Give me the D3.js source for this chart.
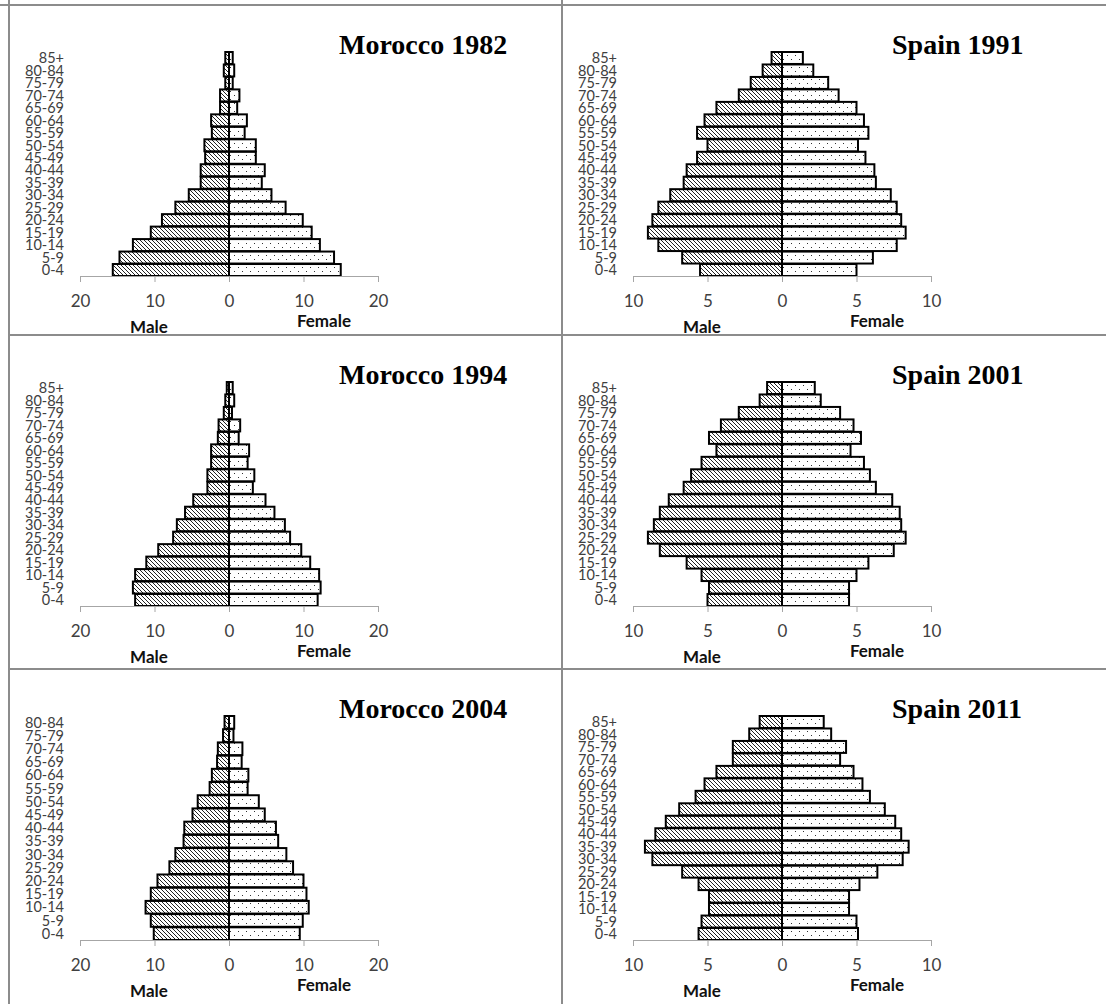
<!DOCTYPE html>
<html>
<head>
<meta charset="utf-8">
<script src="https://cdn.jsdelivr.net/npm/d3@7"></script>
<style>
  body { margin: 0; background: #fff; }
  svg { display: block; }
  .cat-label { font-family: Lato, "Open Sans", sans-serif; font-size: 14.5px; fill: #404040; }
  .tick text { font-family: Lato, "Open Sans", sans-serif; font-size: 17px; fill: #404040; }
  .sex-label { font-family: Lato, "Open Sans", sans-serif; font-size: 17px; font-weight: bold; fill: #111; }
  .panel-title { font-family: "Liberation Serif", "Times New Roman", serif; font-size: 28px; font-weight: bold; fill: #000; }
</style>
</head>
<body>
<svg id="chart"></svg>
<script>
// age groups, youngest first
const ageGroups = ['0-4', '5-9', '10-14', '15-19', '20-24', '25-29', '30-34', '35-39', '40-44',
  '45-49', '50-54', '55-59', '60-64', '65-69', '70-74', '75-79', '80-84', '85+'];
const ageGroups2004 = ['0-4', '5-9', '10-14', '15-19', '20-24', '25-29', '30-34', '35-39', '40-44',
  '45-49', '50-54', '55-59', '60-64', '65-69', '70-74', '75-79', '80-84'];

// % of population
const morocco1982Male = [15.6, 14.7, 12.9, 10.5, 9.0, 7.2, 5.4, 3.8, 3.8, 3.2, 3.3, 2.3, 2.4, 1.2, 1.2, 0.5, 0.7, 0.5];
const morocco1982Female = [15.0, 14.1, 12.2, 11.1, 9.9, 7.6, 5.7, 4.4, 4.8, 3.6, 3.6, 2.1, 2.4, 1.1, 1.4, 0.5, 0.7, 0.5];

const spain1991Male = [5.5, 6.7, 8.3, 9.0, 8.7, 8.3, 7.5, 6.6, 6.4, 5.7, 5.0, 5.7, 5.2, 4.4, 2.9, 2.1, 1.3, 0.7];
const spain1991Female = [5.0, 6.1, 7.7, 8.3, 8.0, 7.7, 7.3, 6.3, 6.2, 5.6, 5.1, 5.8, 5.5, 5.0, 3.8, 3.1, 2.1, 1.4];

const morocco1994Male = [12.6, 12.9, 12.6, 11.1, 9.5, 7.5, 7.0, 5.9, 4.8, 2.9, 2.9, 2.4, 2.4, 1.5, 1.4, 0.7, 0.5, 0.3];
const morocco1994Female = [11.9, 12.3, 12.1, 10.9, 9.7, 8.2, 7.5, 6.1, 4.9, 3.2, 3.4, 2.5, 2.7, 1.3, 1.5, 0.4, 0.7, 0.5];

const spain2001Male = [5.0, 4.9, 5.4, 6.4, 8.2, 9.0, 8.6, 8.2, 7.6, 6.6, 6.1, 5.4, 4.4, 4.9, 4.1, 2.9, 1.5, 1.0];
const spain2001Female = [4.5, 4.5, 5.0, 5.8, 7.5, 8.3, 8.0, 7.9, 7.4, 6.3, 5.9, 5.5, 4.6, 5.3, 4.8, 3.9, 2.6, 2.2];

const morocco2004Male = [10.1, 10.5, 11.2, 10.5, 9.6, 8.0, 7.2, 6.1, 6.0, 4.9, 4.2, 2.6, 2.3, 1.6, 1.5, 0.8, 0.6];
const morocco2004Female = [9.5, 9.9, 10.7, 10.4, 10.0, 8.6, 7.7, 6.6, 6.3, 4.8, 4.0, 2.5, 2.6, 1.7, 1.8, 0.6, 0.7];

const spain2011Male = [5.6, 5.4, 4.9, 4.9, 5.6, 6.7, 8.7, 9.2, 8.5, 7.8, 6.9, 5.8, 5.2, 4.4, 3.3, 3.3, 2.2, 1.5];
const spain2011Female = [5.1, 5.0, 4.5, 4.5, 5.2, 6.4, 8.1, 8.5, 8.0, 7.6, 6.9, 5.9, 5.4, 4.8, 3.9, 4.3, 3.3, 2.8];

const moroccoTicks = [-20, -10, 0, 10, 20];
const spainTicks = [-10, -5, 0, 5, 10];

const panels = [
  { title: 'Morocco 1982', ages: ageGroups, male: morocco1982Male, female: morocco1982Female, ticks: moroccoTicks },
  { title: 'Spain 1991', ages: ageGroups, male: spain1991Male, female: spain1991Female, ticks: spainTicks },
  { title: 'Morocco 1994', ages: ageGroups, male: morocco1994Male, female: morocco1994Female, ticks: moroccoTicks },
  { title: 'Spain 2001', ages: ageGroups, male: spain2001Male, female: spain2001Female, ticks: spainTicks },
  { title: 'Morocco 2004', ages: ageGroups2004, male: morocco2004Male, female: morocco2004Female, ticks: moroccoTicks },
  { title: 'Spain 2011', ages: ageGroups, male: spain2011Male, female: spain2011Female, ticks: spainTicks }
];

const WIDTH = 1106;
const HEIGHT = 1004;
const colLeft = [9, 562];
const rowTop = [5, 335, 669];

const svg = d3.select('#chart').attr('width', WIDTH).attr('height', HEIGHT);
svg.append('rect').attr('width', WIDTH).attr('height', HEIGHT).attr('fill', '#fff');

// fill patterns
const defs = svg.append('defs');
const hatch = defs.append('pattern')
  .attr('id', 'hatch')
  .attr('patternUnits', 'userSpaceOnUse')
  .attr('width', 4)
  .attr('height', 4);
hatch.append('rect').attr('width', 4).attr('height', 4).attr('fill', '#fff');
hatch.append('path')
  .attr('d', 'M-1,-1 L5,5 M-1,3 L1,5 M3,-1 L5,1')
  .attr('stroke', '#222')
  .attr('stroke-width', 1);

const dots = defs.append('pattern')
  .attr('id', 'dots')
  .attr('patternUnits', 'userSpaceOnUse')
  .attr('width', 8)
  .attr('height', 8);
dots.append('rect').attr('width', 8).attr('height', 8).attr('fill', '#fff');
dots.append('rect').attr('x', 1).attr('y', 2).attr('width', 1).attr('height', 1).attr('fill', '#333');
dots.append('rect').attr('x', 5).attr('y', 6).attr('width', 1).attr('height', 1).attr('fill', '#333');

panels.forEach((p, i) => {
  const left = colLeft[i % 2];
  const top = rowTop[Math.floor(i / 2)];
  const g = svg.append('g').attr('transform', `translate(${left}, ${top})`);

  const max = d3.max(p.ticks);
  const x = d3.scaleLinear().domain([-max, max]).range([71, 369]);
  const y = d3.scaleBand().domain(p.ages.slice().reverse()).range([47, 271]).paddingInner(0.04);

  // category labels
  g.selectAll('.cat-label')
    .data(p.ages)
    .enter()
    .append('text')
    .attr('class', 'cat-label')
    .attr('x', 55)
    .attr('y', d => y(d) + y.bandwidth() / 2)
    .attr('dy', '0.36em')
    .attr('text-anchor', 'end')
    .text(d => d);

  // male bars (left)
  g.append('g')
    .selectAll('rect')
    .data(p.ages.map((a, k) => ({ age: a, v: p.male[k] })))
    .enter()
    .append('rect')
    .attr('x', d => x(-d.v))
    .attr('y', d => y(d.age))
    .attr('width', d => x(0) - x(-d.v))
    .attr('height', y.bandwidth())
    .attr('fill', 'url(#hatch)')
    .attr('stroke', '#000')
    .attr('stroke-width', 2);

  // female bars (right)
  g.append('g')
    .selectAll('rect')
    .data(p.ages.map((a, k) => ({ age: a, v: p.female[k] })))
    .enter()
    .append('rect')
    .attr('x', x(0))
    .attr('y', d => y(d.age))
    .attr('width', d => x(d.v) - x(0))
    .attr('height', y.bandwidth())
    .attr('fill', 'url(#dots)')
    .attr('stroke', '#000')
    .attr('stroke-width', 2);

  // value axis
  const axis = g.append('g')
    .attr('transform', 'translate(0, 271)')
    .call(d3.axisBottom(x)
      .tickValues(p.ticks)
      .tickFormat(d => Math.abs(d))
      .tickSize(6)
      .tickSizeOuter(0)
      .tickPadding(13));
  axis.select('.domain').attr('stroke', '#a6a6a6');
  axis.selectAll('.tick line').attr('stroke', '#a6a6a6');

  g.append('text').attr('class', 'sex-label')
    .attr('x', 140).attr('y', 328)
    .attr('text-anchor', 'middle')
    .text('Male');
  g.append('text').attr('class', 'sex-label')
    .attr('x', 315).attr('y', 322)
    .attr('text-anchor', 'middle')
    .text('Female');

  g.append('text').attr('class', 'panel-title')
    .attr('x', 330).attr('y', 49)
    .text(p.title);
});

// table borders
const borders = svg.append('g')
  .attr('stroke', '#8c8c8c')
  .attr('stroke-width', 2);
borders.append('line').attr('x1', 0).attr('x2', WIDTH).attr('y1', rowTop[0]).attr('y2', rowTop[0]);
borders.append('line').attr('x1', colLeft[0]).attr('x2', WIDTH).attr('y1', rowTop[1]).attr('y2', rowTop[1]);
borders.append('line').attr('x1', colLeft[0]).attr('x2', WIDTH).attr('y1', rowTop[2]).attr('y2', rowTop[2]);
borders.append('line').attr('x1', colLeft[0]).attr('x2', colLeft[0]).attr('y1', 0).attr('y2', HEIGHT);
borders.append('line').attr('x1', colLeft[1]).attr('x2', colLeft[1]).attr('y1', 0).attr('y2', HEIGHT);
</script>
</body>
</html>
